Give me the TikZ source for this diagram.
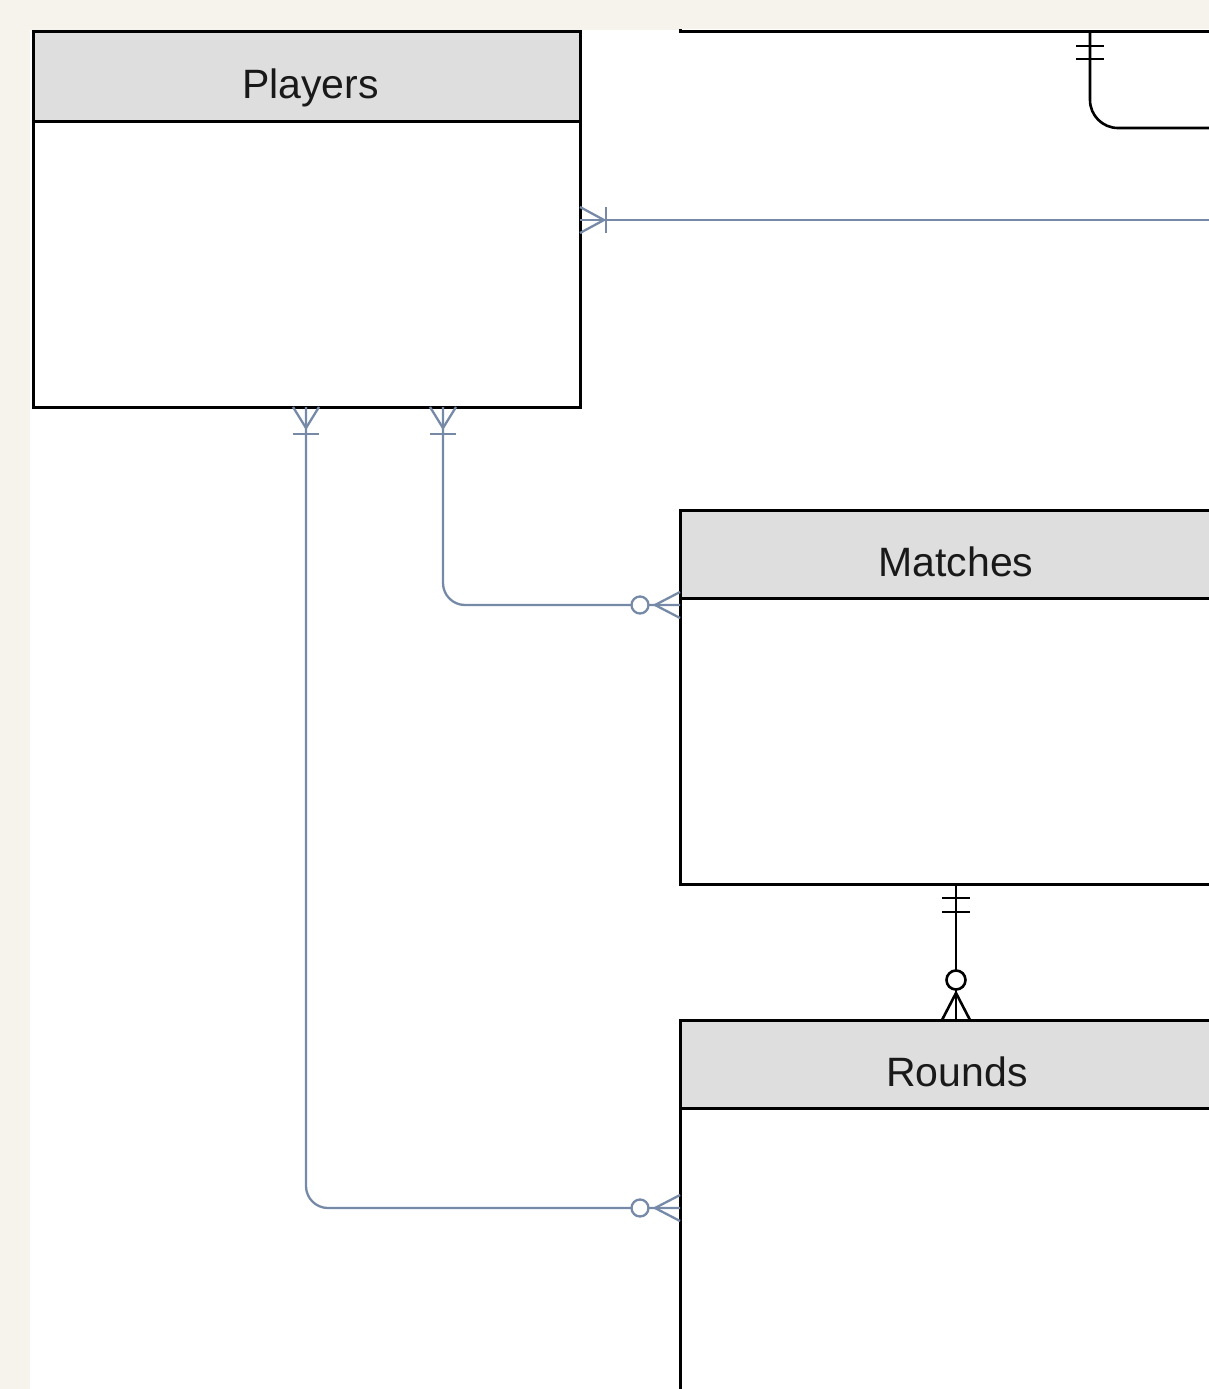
\documentclass[tikz,border=0pt]{standalone}
\usepackage{fontspec}
\setmainfont{Liberation Sans}
\definecolor{bgcream}{RGB}{246,243,236}
\definecolor{hdrgray}{RGB}{222,222,222}
\definecolor{relblue}{RGB}{118,138,168}
\begin{document}
\begin{tikzpicture}[x=1pt,y=1pt,
  ent/.style={draw=black,line width=3pt,fill=white,inner sep=0pt,outer sep=0pt,anchor=north west},
  hdr/.style={draw=black,line width=3pt,fill=hdrgray,inner sep=0pt,outer sep=0pt,anchor=north west,minimum height=89pt},
  ttl/.style={anchor=base,inner sep=0pt,font=\fontsize{41}{48}\selectfont,text=black!90},
  rel/.style={draw=relblue,line width=2.3pt},
  relk/.style={draw=black,line width=2.6pt},
  ring/.style={fill=white}]
\fill[bgcream] (0,0) rectangle (1209,-1389);
\useasboundingbox (0,0) rectangle (1209,-1389);
\fill[white] (30,-30) rectangle (1209,-1389);
\begin{scope}
\clip (30,-30) rectangle (1209,-1389);
% entities
\node[ent,minimum width=552pt,minimum height=200pt,anchor=south west] (teams) at (680,-32) {};
\node[ent,minimum width=547pt,minimum height=375pt] (players) at (33,-32) {};
\node[hdr,minimum width=547pt] (playersH) at (33,-32) {};
\node[ttl] (playersT) at ([xshift=4pt,yshift=-66pt]playersH.north) {Players};
\node[ent,minimum width=552pt,minimum height=374pt] (matches) at (680,-510) {};
\node[hdr,minimum width=552pt,minimum height=88pt] (matchesH) at (680,-510) {};
\node[ttl] (matchesT) at ([yshift=-66pt]matchesH.north) {Matches};
\node[ent,minimum width=552pt,minimum height=400pt] (rounds) at (680,-1020) {};
\node[hdr,minimum width=552pt,minimum height=88pt] (roundsH) at (680,-1020) {};
\node[ttl] (roundsT) at ([xshift=1pt,yshift=-66pt]roundsH.north) {Rounds};
% coordinates
\coordinate (offA) at (1240,-220);
\coordinate (pA) at (players.east |- offA);
\coordinate (pB) at ([xshift=-0.5pt]players.south);
\coordinate (pC) at ([xshift=136.5pt]players.south);
\coordinate (mA) at ([yshift=-95pt]matches.north west);
\coordinate (rA) at ([yshift=-188pt]rounds.north west);
\coordinate (tA) at ([xshift=410pt]teams.south west);
\coordinate (offB) at (1240,-128);
% Players -- off right
\draw[rel] (offA) -- (pA);
\draw[rel] ([yshift=13pt]pA) -- ++(24,-13) -- ++(-24,-13);
\draw[rel] ([xshift=26pt,yshift=13pt]pA) -- ++(0,-26);
% Players -- Matches
\draw[rel,rounded corners=22pt] (pC) |- (mA);
\draw[rel] ([xshift=-13pt]pC) -- ++(13,-21) -- ++(13,21);
\draw[rel] ([xshift=-13pt,yshift=-27pt]pC) -- ++(26,0);
\draw[rel] ([yshift=13pt]mA) -- ++(-25,-13) -- ++(25,-13);
\draw[rel,ring] ([xshift=-40pt]mA) circle[radius=8.5pt];
% Players -- Rounds
\draw[rel,rounded corners=22pt] (pB) |- (rA);
\draw[rel] ([xshift=-13pt]pB) -- ++(13,-21) -- ++(13,21);
\draw[rel] ([xshift=-13pt,yshift=-27pt]pB) -- ++(26,0);
\draw[rel] ([yshift=13pt]rA) -- ++(-25,-13) -- ++(25,-13);
\draw[rel,ring] ([xshift=-40pt]rA) circle[radius=8.5pt];
% Teams -- off right
\draw[relk,rounded corners=28pt] (tA) |- (offB);
\draw[relk] ([xshift=-14pt,yshift=-14pt]tA) -- ++(28,0);
\draw[relk] ([xshift=-14pt,yshift=-27pt]tA) -- ++(28,0);
% Matches -- Rounds
\draw[relk] (matches.south) -- (rounds.north);
\draw[relk] ([xshift=-14pt,yshift=-14pt]matches.south) -- ++(28,0);
\draw[relk] ([xshift=-14pt,yshift=-28pt]matches.south) -- ++(28,0);
\draw[relk] ([xshift=-14pt]rounds.north) -- ++(14,27) -- ++(14,-27);
\draw[relk,ring] ([yshift=40pt]rounds.north) circle[radius=9.5pt];
\end{scope}
\end{tikzpicture}
\end{document}
